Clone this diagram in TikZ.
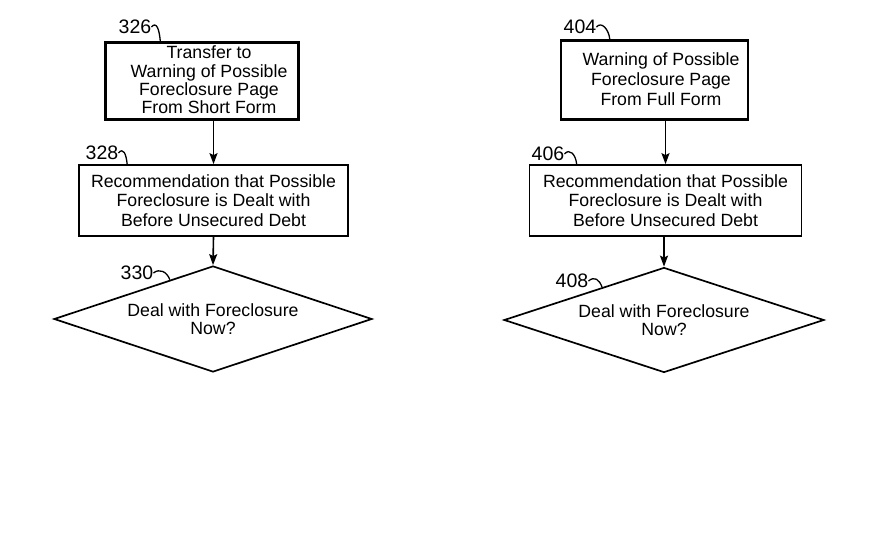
\documentclass[tikz,border=0pt]{standalone}
\usepackage{fontspec}
\setmainfont{Liberation Sans}
\usetikzlibrary{shapes.geometric,arrows.meta,calc}
\begin{document}
\begin{tikzpicture}[x=1pt,y=-1pt,
  boxthick/.style={draw, line width=2.4pt, inner sep=0pt},
  boxthin/.style={draw, line width=1.7pt, inner sep=0pt, align=center,
    font=\fontsize{17.7}{19.5}\selectfont},
  txt/.style={align=center, inner sep=0pt},
  dia/.style={draw, diamond, line width=1.7pt, inner sep=0pt, align=center,
    font=\fontsize{17.7}{18}\selectfont},
  num/.style={font=\fontsize{19.5}{19.5}\selectfont, inner sep=0pt},
  hook/.style={line width=1.3pt},
  flow/.style={line width=1.6pt, -{Stealth[length=11pt,width=8pt,inset=2pt]}}
]
\useasboundingbox (0,0) rectangle (890,548);

% left column
\node[boxthick, minimum width=193pt, minimum height=77pt] (b326) at (202,81) {};
\node[txt, font=\fontsize{17.7}{18.3}\selectfont] (t326) at (209,80)
  {Transfer to\\Warning of Possible\\Foreclosure Page\\From Short Form};
\node[boxthin, minimum width=269pt, minimum height=71pt] (b328) at (213.5,200.5)
  {Recommendation that Possible\\Foreclosure is Dealt with\\Before Unsecured Debt};
\node[dia, shape aspect=3, minimum width=318pt, minimum height=106pt] (d330) at (213,319)
  {Deal with Foreclosure\\Now?};

\node[num] (n326) at (135,27) {326};
\node[num] (n328) at (102,153) {328};
\node[num] (n330) at (137,273) {330};

\draw[flow] (b328.north |- b326.south) -- (b328.north);
\draw[flow] (b328.south) -- (d330.north);

\draw[hook] (n326.east) .. controls +(5,-6) and +(-1,-12) .. ([xshift=56pt]b326.north west);
\draw[hook] (n328.east) .. controls +(5,-6) and +(-1,-10) .. ([xshift=49pt]b328.north west);
\coordinate (e330) at ($(d330.west)!0.73!(d330.north)$);
\draw[hook] (n330.east) .. controls +(6,-5) and +(-3,-8) .. (e330);

% right column
\node[boxthick, minimum width=187pt, minimum height=79pt] (b404) at (654.5,80) {};
\node[txt, font=\fontsize{17.7}{19.8}\selectfont] (t404) at (661,79)
  {Warning of Possible\\Foreclosure Page\\From Full Form};
\node[boxthin, minimum width=272pt, minimum height=71pt] (b406) at (665.5,200.5)
  {Recommendation that Possible\\Foreclosure is Dealt with\\Before Unsecured Debt};
\node[dia, shape aspect=3.05, minimum width=320pt, minimum height=105pt] (d408) at (664,320)
  {Deal with Foreclosure\\Now?};

\node[num] (n404) at (580,27) {404};
\node[num] (n406) at (548,154) {406};
\node[num] (n408) at (572,281) {408};

\draw[flow] (b406.north |- b404.south) -- (b406.north);
\draw[flow] (d408.north |- b406.south) -- (d408.north);

\draw[hook] (n404.east) .. controls +(5,-6) and +(-1,-10) .. ([xshift=50pt]b404.north west);
\draw[hook] (n406.east) .. controls +(5,-6) and +(-1,-10) .. ([xshift=48pt]b406.north west);
\coordinate (e408) at ($(d408.west)!0.615!(d408.north)$);
\draw[hook] (n408.east) .. controls +(6,-5) and +(-3,-8) .. (e408);
\end{tikzpicture}
\end{document}
